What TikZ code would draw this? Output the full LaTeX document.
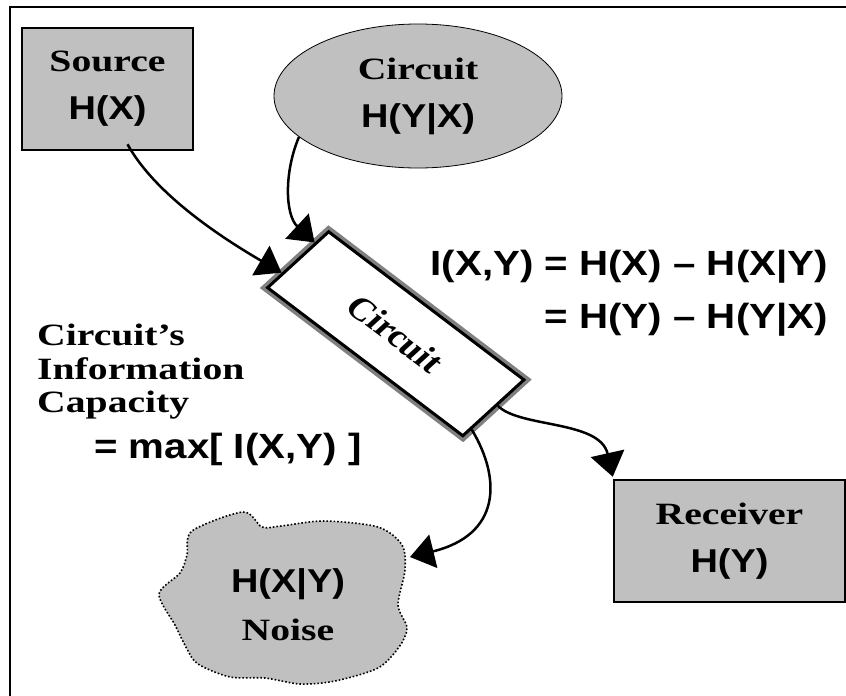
\documentclass[tikz,border=0pt]{standalone}
\usepackage{fontspec}
\setmainfont{Liberation Serif}[FakeStretch=1.28]
\newfontfamily\plainserif{Liberation Serif}
\newfontfamily\arialfont{Liberation Sans}[FakeStretch=1.15]
\usetikzlibrary{arrows.meta,calc,shapes.geometric}
\definecolor{boxgray}{RGB}{192,192,192}
\definecolor{rimgray}{RGB}{128,128,128}
\newcommand{\hsans}[1]{{\arialfont\fontsize{33}{48}\selectfont #1}}

\begin{document}
\begin{tikzpicture}[x=1pt,y=-1pt,>={Triangle[length=24pt,width=34pt]},
  link/.style={->,line width=2.5pt},
  serif text/.style={font=\fontsize{31}{48}\selectfont\bfseries},
  sans text/.style={font=\arialfont\fontsize{35}{40}\selectfont\bfseries,inner sep=0pt},
  cap text/.style={font=\fontsize{31}{33.5}\selectfont\bfseries,inner sep=0pt},
  box node/.style={draw,fill=boxgray,line width=2.5pt,minimum height=122pt,inner sep=0pt,align=center,serif text},
  oval node/.style={ellipse,draw,fill=boxgray,line width=0.8pt,minimum width=288pt,minimum height=144pt,inner sep=0pt,align=center,serif text},
  channel node/.style={draw,line width=3pt,fill=white,preaction={draw=rimgray,line width=10pt},minimum width=220pt,minimum height=75.6pt,inner sep=0pt,font=\plainserif\fontsize{32}{36}\selectfont\bfseries}]

  \useasboundingbox (0,0) rectangle (846,696);
  \draw[line width=2.5pt] (870,7) -- (10,7) -- (10,720);

  \path[draw,dotted,line width=1.6pt,fill=boxgray] plot[smooth cycle,tension=0.5] coordinates {(192,531) (243,512) (262,527) (281,526) (324,521) (378,527) (402,545) (405,570) (398,605) (407,628) (399,647) (378,668) (335,681) (300,684) (265,678) (230,677) (198,664) (187,649) (175,625) (159,594) (180,573) (187,555)};

  \node[box node,minimum width=171pt] (src) at (107.5,89) {Source\\\hsans{H(X)}};
  \node[oval node] (circ) at (418,96) {Circuit\\\hsans{H(Y|X)}};
  \node[channel node,xscale=1.2,rotate=-42.3] (ckt) at (395.75,333.75) {Circuit};
  \node[box node,minimum width=231pt] (rcv) at (729.5,541) {Receiver\\\hsans{H(Y)}};
  \node[serif text,align=center] (noise) at (288,605) {\hsans{H(X|Y)}\\Noise};
  \coordinate (noise in) at (410,557);

  \node[sans text,anchor=base east] (mi top) at (828,275) {I(X,Y) = H(X) – H(X|Y)};
  \node[sans text,anchor=base east] (mi bot) at (828,328) {= H(Y) – H(Y|X)};
  \node[cap text,align=left,anchor=north west] (capacity) at (37,324) {Circuit’s\\Information\\Capacity};
  \node[sans text,anchor=base west] (cap max) at (94,458) {= max[ I(X,Y) ]};

  \draw[link] ([shift={(20,-7)}]src.south) .. controls (150,185) and (200,225) .. ($(ckt.north west)!.74!(ckt.south west)$);
  \draw[link] (circ.199) .. controls (284,172) and (285,215) .. ($(ckt.north west)!.22!(ckt.south west)$);
  \draw[link] ($(ckt.north east)!.45!(ckt.south east)$) .. controls (520,428) and (600,420) .. ([yshift=2]rcv.north west);
  \draw[link] ($(ckt.north east)!.86!(ckt.south east)$) .. controls (502,480) and (500,535) .. (noise in);
\end{tikzpicture}
\end{document}
